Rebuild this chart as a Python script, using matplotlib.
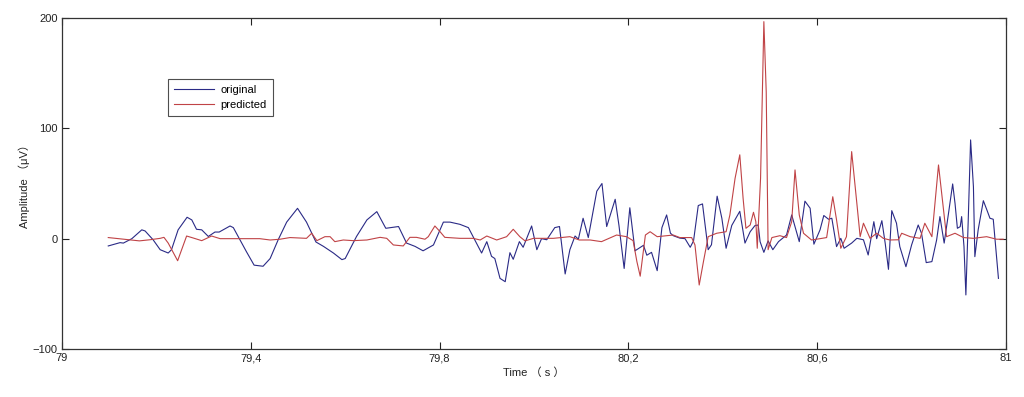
"""Original vs predicted EEG amplitude, 79-81 s window."""

import matplotlib
matplotlib.use("Agg")
import matplotlib.pyplot as plt
from matplotlib.ticker import FixedLocator

# ---------------------------------------------------------------------------
# Data
# ---------------------------------------------------------------------------

orig_t = [
    79.098, 79.123, 79.130, 79.148, 79.169, 79.176, 79.193, 79.208, 79.225, 79.232,
    79.246, 79.265, 79.275, 79.285, 79.296, 79.310, 79.324, 79.333, 79.356, 79.363,
    79.377, 79.391, 79.407, 79.426, 79.441, 79.458, 79.476, 79.499, 79.518, 79.538,
    79.554, 79.575, 79.593, 79.600, 79.624, 79.646, 79.667, 79.686, 79.713, 79.730,
    79.748, 79.765, 79.787, 79.808, 79.822, 79.843, 79.861, 79.871, 79.889, 79.900,
    79.910, 79.917, 79.928, 79.939, 79.949, 79.956, 79.969, 79.977, 79.995, 80.006,
    80.016, 80.027, 80.044, 80.054, 80.066, 80.076, 80.087, 80.094, 80.104, 80.115,
    80.133, 80.144, 80.154, 80.172, 80.180, 80.191, 80.203, 80.214, 80.225, 80.232,
    80.239, 80.249, 80.261, 80.271, 80.281, 80.289, 80.295, 80.309, 80.320, 80.331,
    80.338, 80.348, 80.357, 80.369, 80.376, 80.388, 80.398, 80.407, 80.419, 80.436,
    80.447, 80.458, 80.468, 80.475, 80.479, 80.487, 80.496, 80.506, 80.518, 80.535,
    80.546, 80.562, 80.574, 80.585, 80.593, 80.606, 80.614, 80.624, 80.631, 80.641,
    80.650, 80.657, 80.673, 80.684, 80.698, 80.708, 80.720, 80.726, 80.737, 80.744,
    80.751, 80.758, 80.768, 80.775, 80.788, 80.800, 80.814, 80.821, 80.831, 80.843,
    80.853, 80.860, 80.869, 80.878, 80.887, 80.892, 80.897, 80.903, 80.906, 80.911,
    80.915, 80.920, 80.925, 80.931, 80.934, 80.941, 80.952, 80.959, 80.966, 80.973,
    80.984,
]
orig_v = [
    -6.6, -3.6, -4.0, 0.0, 8.0, 7.0, -1.0, -10.0, -13.0, -10.0,
    8.0, 19.4, 17.0, 8.5, 8.0, 2.0, 6.0, 6.0, 11.5, 10.0,
    -1.0, -12.0, -24.0, -25.0, -18.0, -1.0, 15.0, 27.5, 15.0, -3.0,
    -7.0, -13.0, -19.0, -18.0, 2.0, 17.0, 24.5, 9.4, 11.0, -4.0,
    -7.0, -11.0, -5.7, 15.0, 15.0, 13.0, 10.0, 1.8, -13.0, -2.7,
    -16.0, -18.0, -36.0, -39.0, -12.7, -18.7, -2.7, -7.8, 11.5, -10.0,
    0.0, -1.0, 10.0, 11.0, -32.0, -10.0, 2.4, -0.5, 18.5, 1.0,
    43.0, 50.0, 11.0, 35.7, 12.0, -27.0, 28.0, -11.0, -8.0, -6.0,
    -15.0, -12.4, -29.0, 10.0, 21.5, 5.0, 2.7, 0.5, 0.0, -7.8,
    -2.0, 30.0, 31.5, -10.0, -5.5, 38.5, 18.5, -8.7, 12.0, 24.8,
    -4.0, 6.3, 11.8, 12.4, -2.7, -12.4, -2.0, -10.0, -2.7, 3.3,
    21.5, -2.7, 34.0, 27.6, -5.0, 8.0, 21.0, 17.6, 18.5, -7.2,
    0.3, -8.7, -4.0, 0.3, -1.0, -14.8, 15.4, 0.0, 16.3, -4.0,
    -27.8, 25.4, 14.0, -7.2, -25.4, -5.7, 12.4, 4.9, -21.7, -20.8,
    -1.2, 20.0, -4.0, 22.4, 49.6, 32.0, 9.4, 10.9, 20.0, -7.2,
    -51.0, 17.0, 89.5, 47.0, -16.3, 7.9, 34.4, 26.6, 18.5, 17.6,
    -36.0,
]

pred_t = [
    79.098, 79.164, 79.186, 79.208, 79.216, 79.225, 79.245, 79.264, 79.275, 79.296,
    79.317, 79.335, 79.419, 79.441, 79.462, 79.483, 79.518, 79.529, 79.540, 79.557,
    79.568, 79.578, 79.596, 79.617, 79.646, 79.674, 79.688, 79.702, 79.723, 79.737,
    79.751, 79.769, 79.776, 79.790, 79.801, 79.811, 79.843, 79.871, 79.886, 79.900,
    79.921, 79.942, 79.956, 79.970, 79.981, 79.999, 80.041, 80.076, 80.096, 80.119,
    80.143, 80.175, 80.196, 80.210, 80.218, 80.225, 80.236, 80.246, 80.261, 80.295,
    80.309, 80.334, 80.341, 80.350, 80.359, 80.369, 80.387, 80.407, 80.415, 80.426,
    80.436, 80.443, 80.449, 80.458, 80.465, 80.470, 80.473, 80.480, 80.487, 80.492,
    80.496, 80.504, 80.521, 80.535, 80.546, 80.553, 80.562, 80.571, 80.588, 80.606,
    80.620, 80.633, 80.641, 80.650, 80.662, 80.673, 80.684, 80.691, 80.698, 80.712,
    80.726, 80.740, 80.754, 80.772, 80.779, 80.797, 80.818, 80.828, 80.843, 80.857,
    80.874, 80.892, 80.910, 80.931, 80.959, 80.980, 80.994,
]
pred_v = [
    1.0, -2.0, -1.0, 0.3, 1.2, -4.0, -20.0, 2.4, 1.0, -1.8,
    2.4, 0.0, 0.0, -1.2, -0.5, 1.0, 0.3, 4.9, -1.8, 1.8,
    1.8, -2.7, -1.2, -1.8, -1.2, 1.2, 0.3, -5.7, -6.6, 1.2,
    1.2, -0.5, 1.8, 11.5, 6.3, 1.2, 0.3, 0.3, -1.2, 2.4,
    -1.2, 1.8, 8.5, 1.8, -2.0, 0.3, 0.3, 1.8, -1.2, -1.2,
    -2.7, 3.3, 1.8, -1.8, -20.8, -34.0, 3.3, 6.3, 1.8, 3.3,
    1.0, 1.0, -5.7, -42.0, -20.8, 1.8, 4.9, 6.3, 21.5, 54.7,
    76.0, 36.6, 9.4, 12.4, 23.9, 15.4, -8.7, 54.7, 196.7, 133.0,
    -10.0, 1.0, 2.7, 1.0, 15.4, 62.3, 21.5, 4.9, -1.2, 0.0,
    1.0, 38.0, 17.0, -8.7, 1.8, 78.9, 32.0, 1.8, 14.0, 0.3,
    4.9, 0.3, -1.2, -1.0, 4.9, 1.8, 0.3, 14.0, 1.8, 66.8,
    1.8, 4.9, 1.0, 0.3, 1.8, -0.5, -0.5,
]

x_ticks = [79.0, 79.4, 79.8, 80.2, 80.6, 81.0]
x_tick_labels = ["79", "79,4", "79,8", "80,2", "80,6", "81"]
y_ticks = [-100, 0, 100, 200]

# ---------------------------------------------------------------------------
# Style
# ---------------------------------------------------------------------------

ORIG_COLOR = "#2a2a86"
PRED_COLOR = "#c04346"
TEXT_COLOR = "#222222"
FONT = ["Liberation Sans", "Noto Sans CJK SC", "DejaVu Sans"]

plt.rcParams["font.family"] = FONT
plt.rcParams["font.size"] = 8

fig = plt.figure(figsize=(10.24, 3.97), dpi=100)
ax = fig.add_axes([62 / 1024, 1 - 349 / 397, 944 / 1024, 331 / 397])

ax.plot(orig_t, orig_v, color=ORIG_COLOR, lw=0.8, label="original")
ax.plot(pred_t, pred_v, color=PRED_COLOR, lw=0.8, label="predicted")

ax.set_xlim(79, 81)
ax.set_ylim(-100, 200)
ax.xaxis.set_major_locator(FixedLocator(x_ticks))
ax.set_xticklabels(x_tick_labels)
ax.yaxis.set_major_locator(FixedLocator(y_ticks))

ax.tick_params(direction="in", length=5, width=0.8, top=True, right=True,
               labelsize=8, colors=TEXT_COLOR, pad=3)
for spine in ax.spines.values():
    spine.set_linewidth(0.9)
    spine.set_color("#333333")

ax.set_xlabel("Time （ s ）", fontsize=8, color=TEXT_COLOR, labelpad=3)
ax.set_ylabel("Amplitude （μV）", fontsize=8, color=TEXT_COLOR, labelpad=2)

leg = ax.legend(loc="upper left", bbox_to_anchor=(0.112, 0.815),
                fontsize=8, frameon=True, fancybox=False,
                handlelength=3.6, handletextpad=0.6, borderpad=0.55,
                labelspacing=0.4, borderaxespad=0)
leg.get_frame().set_edgecolor("#222222")
leg.get_frame().set_linewidth(0.8)

fig.savefig("out.png", dpi=100)
plt.close(fig)
